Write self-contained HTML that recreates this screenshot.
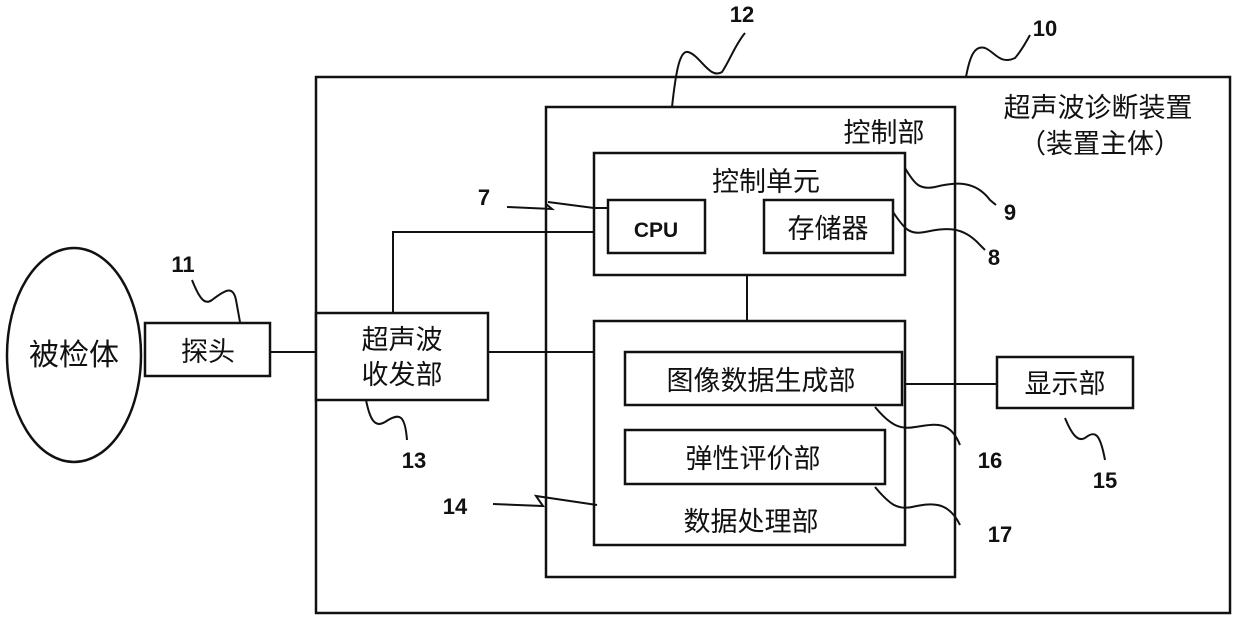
<!DOCTYPE html>
<html><head><meta charset="utf-8"><style>
html,body{margin:0;padding:0;background:#fff}
svg text{font-family:"Liberation Sans","Noto Sans CJK SC",sans-serif;fill:#111}
</style></head><body>
<svg width="1239" height="625" viewBox="0 0 1239 625" xmlns="http://www.w3.org/2000/svg">
<g fill="none" stroke="#111" stroke-width="2.5">
<ellipse cx="74" cy="355" rx="67" ry="107"/>
<rect x="145" y="323" width="125" height="53"/>
<rect x="316" y="77" width="914" height="536"/>
<rect x="316" y="313" width="172" height="87" fill="#fff"/>
<rect x="546" y="107" width="409" height="470"/>
<rect x="594" y="153" width="311" height="122"/>
<rect x="608" y="200" width="97" height="53"/>
<rect x="764" y="200" width="129" height="53"/>
<rect x="594" y="321" width="311" height="224"/>
<rect x="625" y="352" width="277" height="53"/>
<rect x="625" y="430" width="260" height="54"/>
<rect x="997" y="357" width="136" height="51"/>
</g>
<g fill="none" stroke="#111" stroke-width="2">
<path d="M270 352 H316"/>
<path d="M393 313 V232 H594"/>
<path d="M488 352 H594"/>
<path d="M747 275 V321"/>
<path d="M905 384 H997"/>
<path d="M594 208 L548 202 M594 208 H608"/>
<path d="M507 207 L552 209 L546 204"/>
<path d="M493 504 L543 506 L536 496 L597 505"/>
<path d="M192 280 C200 300 205 305 212 300 C225 290 233 285 236 300 L240 322"/>
<path d="M366 400 C370 420 375 428 385 422 C400 412 405 415 407 440"/>
<path d="M672 107 C676 70 680 50 688 52 C700 55 710 80 722 72 C730 60 735 45 745 33"/>
<path d="M966 77 C970 55 975 45 985 48 C995 52 1000 65 1015 58 C1022 50 1026 42 1030 35"/>
<path d="M905 168 C915 185 920 190 935 187 C955 182 975 180 990 200 L996 205"/>
<path d="M893 212 C905 230 910 235 925 232 C945 228 962 225 980 245 L985 250"/>
<path d="M875 407 C890 425 900 430 915 427 C935 424 950 420 960 445"/>
<path d="M1065 418 C1072 435 1078 442 1085 438 C1095 430 1100 433 1105 460"/>
<path d="M875 487 C890 505 898 510 912 507 C930 503 948 500 960 525"/>
</g>
<g font-size="27" text-anchor="middle">
<text x="74" y="365" font-size="30">被检体</text>
<text x="208" y="361">探头</text>
<text x="402" y="349">超声波</text>
<text x="402" y="384">收发部</text>
<text x="884" y="142">控制部</text>
<text x="1098" y="117">超声波诊断装置</text>
<text x="1100" y="153">（装置主体）</text>
<text x="766" y="191">控制单元</text>
<text x="656" y="237" font-size="21" font-weight="bold">CPU</text>
<text x="828" y="238">存储器</text>
<text x="761" y="390">图像数据生成部</text>
<text x="753" y="468">弹性评价部</text>
<text x="751" y="531">数据处理部</text>
<text x="1065" y="393">显示部</text>
</g>
<g font-size="22" font-weight="bold" text-anchor="middle">
<text x="742" y="22">12</text>
<text x="1045" y="36">10</text>
<text x="484" y="205">7</text>
<text x="183" y="272">11</text>
<text x="414" y="468">13</text>
<text x="455" y="514">14</text>
<text x="1010" y="220">9</text>
<text x="994" y="265">8</text>
<text x="990" y="468">16</text>
<text x="1105" y="488">15</text>
<text x="1000" y="542">17</text>
</g>
</svg>
</body></html>
